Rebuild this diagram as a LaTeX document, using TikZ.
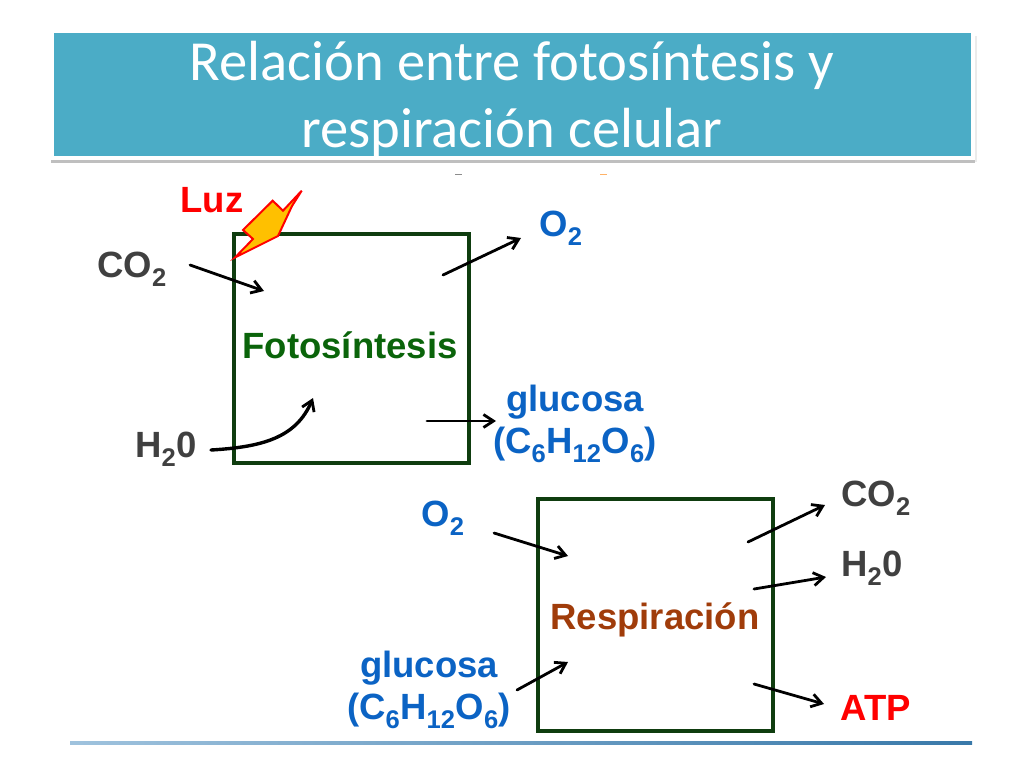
\documentclass[tikz,border=0pt]{standalone}
\usepackage{fontspec}
\setmainfont{Liberation Sans}
\newfontfamily\titlefont{Carlito}
\usetikzlibrary{arrows.meta}
\definecolor{panelblue}{HTML}{4BACC6}
\definecolor{boxgreen}{HTML}{0F3D0F}
\definecolor{labgray}{HTML}{404040}
\definecolor{labblue}{HTML}{0B63C4}
\definecolor{fotogreen}{HTML}{0A640A}
\definecolor{respbrown}{HTML}{A03C0A}
\definecolor{boltfill}{HTML}{FFC000}
\definecolor{rulblue}{HTML}{3F86BC}
\tikzset{
  lab/.style={font=\fontsize{36.5}{40}\selectfont\bfseries,inner sep=0pt,outer sep=0pt,anchor=center},
  procbox/.style={draw=boxgreen,line width=3.6pt,minimum width=235pt,minimum height=229pt,inner sep=0pt,outer sep=0pt,anchor=north west},
  flow/.style={draw=black,line width=2.8pt,-{Straight Barb[length=10pt,width=13pt,line width=2.8pt]},line cap=round},
  titletext/.style={font=\titlefont\fontsize{56.6}{67}\selectfont,text=white,align=center,inner sep=0pt}
}
\begin{document}
\begin{tikzpicture}[x=1pt,y=-1pt]
\useasboundingbox (0,0) rectangle (1024,768);
% title panel
\fill[black!25] (51,158) rectangle (975,162.5);
\fill[black!8] (975,36) rectangle (976.5,162);
\fill[white] (49,31) rectangle (975,160);
\fill[panelblue] (53.5,33) rectangle (971,156);
\node[titletext] (title) at (512,99) {Relación entre fotosíntesis y\\respiración celular};
% specks under the title
\fill[black!45] (455,173.5) rectangle (462,175);
\fill[orange!60] (600,173.5) rectangle (607,175);
% footer rule
\shade[left color=rulblue!50,right color=rulblue!90!black] (70,741.5) rectangle (972,744);
% boxes
\node[procbox] (foto) at (234,234) {};
\node[procbox,minimum height=232pt] (resp) at (538,499) {};
\node[lab,text=fotogreen] (fototxt) at (350,345) {Fotosíntesis};
\node[lab,text=respbrown] (resptxt) at (655,620) {Respiración};
% bolt
\draw[draw=red,fill=boltfill,line width=2pt,line join=miter] (301.7,190.7) -- (283,210.7) -- (272.7,200.7) -- (243,230) -- (253,239) -- (235,257.5) -- (278,236) -- (292,206) -- cycle;
% labels
\node[lab,text=red] (luz) at (212,200) {Luz};
\node[lab,text=labgray] (co2a) at (132,269) {CO\textsubscript{2}};
\node[lab,text=labgray] (h2oa) at (166,449) {H\textsubscript{2}0};
\node[lab,text=labblue] (o2a) at (561,228) {O\textsubscript{2}};
\node[lab,text=labblue,align=center] (gluca) at (575,424) {glucosa\\[2pt](C\textsubscript{6}H\textsubscript{12}O\textsubscript{6})};
\node[lab,text=labblue] (o2b) at (443,518) {O\textsubscript{2}};
\node[lab,text=labblue,align=center] (glucb) at (429,690) {glucosa\\[2pt](C\textsubscript{6}H\textsubscript{12}O\textsubscript{6})};
\node[lab,text=labgray] (co2b) at (876,498) {CO\textsubscript{2}};
\node[lab,text=labgray] (h2ob) at (872,568) {H\textsubscript{2}0};
\node[lab,text=red] (atp) at (876,708) {ATP};
% free ends
\coordinate (c1s) at (190,265); \coordinate (c1e) at (264,291);
\coordinate (h1s) at (211,450); \coordinate (h1e) at (313,398);
\coordinate (o1s) at (443,275); \coordinate (o1e) at (521,238);
\coordinate (g1s) at (427,421); \coordinate (g1e) at (496,421);
\coordinate (o2s) at (494,533); \coordinate (o2e) at (568,556);
\coordinate (g2s) at (517,690); \coordinate (g2e) at (568,662);
\coordinate (c2s) at (748,542); \coordinate (c2e) at (825,505);
\coordinate (h2s) at (754,589); \coordinate (h2e) at (826,577);
\coordinate (a2s) at (754,684); \coordinate (a2e) at (824,704);
% connectors
\draw[flow] (c1s) -- (c1e);
\draw[flow,line width=3.4pt] (h1s) .. controls (262,447) and (296,438) .. (h1e);
\draw[flow] (o1s) -- (o1e);
\draw[flow] (g1s) -- (g1e);
\draw[flow] (o2s) -- (o2e);
\draw[flow] (g2s) -- (g2e);
\draw[flow] (c2s) -- (c2e);
\draw[flow] (h2s) -- (h2e);
\draw[flow] (a2s) -- (a2e);
\end{tikzpicture}
\end{document}
